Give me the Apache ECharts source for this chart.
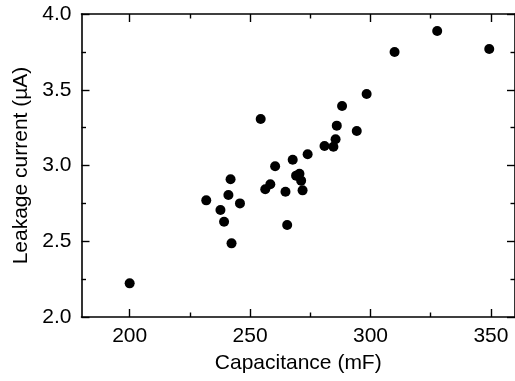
<!DOCTYPE html>
<html>
<head>
<meta charset="utf-8">
<script src="https://cdn.jsdelivr.net/npm/echarts@6/dist/echarts.min.js"></script>
<style>html,body{margin:0;padding:0;background:#fff}#c{width:515px;height:381px}</style>
</head>
<body>
<div id="c"></div>
<script>
const capacitance = [200, 231.8, 237.7, 239.2, 241.0, 241.9, 242.3, 245.8, 254.4, 256.3, 258.4, 260.4, 264.7, 265.4, 267.7, 269.1, 270.5, 271.2, 271.8, 273.9, 280.9, 284.6, 285.5, 286.0, 288.2, 294.3, 298.4, 310.0, 327.7, 349.3];
const leakage = [2.222, 2.770, 2.706, 2.629, 2.805, 2.909, 2.486, 2.750, 3.307, 2.843, 2.876, 2.995, 2.827, 2.607, 3.038, 2.933, 2.946, 2.900, 2.836, 3.074, 3.129, 3.124, 3.173, 3.263, 3.393, 3.228, 3.472, 3.749, 3.888, 3.769];
const xTicks = [200, 250, 300, 350];
const xMinorTicks = [225, 275, 325];
const yTicks = [2.0, 2.5, 3.0, 3.5, 4.0];
const yMinorTicks = [2.25, 2.75, 3.25, 3.75];
const xName = 'Capacitance (mF)';
const yName = 'Leakage current (µA)';

const font = 'Liberation Sans, Arial, sans-serif';
const FS = 21;
const lineOn = {show: true, lineStyle: {color: '#000', width: 1.6}};
const lineOff = {show: false};
const majorTick = {show: true, inside: true, length: 8, customValues: null, lineStyle: {color: '#000', width: 1.4}};
const minorTickLen = 4.5;

function xAxisDef(pos, minor, withLabel) {
  const a = {type: 'value', position: pos, min: 180, max: 360,
    axisLine: minor ? lineOff : lineOn, splitLine: {show: false},
    axisTick: {show: true, inside: true, length: minor ? minorTickLen : 8,
      customValues: minor ? xMinorTicks : xTicks, lineStyle: {color: '#000', width: 1.4}},
    axisLabel: {show: false}};
  if (withLabel) {
    a.axisLabel = {show: true, color: '#000', fontSize: FS, fontFamily: font, margin: 9,
      customValues: xTicks, formatter: v => String(v)};
    a.name = xName; a.nameLocation = 'middle'; a.nameGap = 36;
    a.nameTextStyle = {color: '#000', fontSize: FS, fontFamily: font};
  }
  return a;
}
function yAxisDef(pos, minor, withLabel) {
  const a = {type: 'value', position: pos, min: 2.0, max: 4.0,
    axisLine: minor ? lineOff : lineOn, splitLine: {show: false},
    axisTick: {show: true, inside: true, length: minor ? minorTickLen : 8,
      customValues: minor ? yMinorTicks : yTicks, lineStyle: {color: '#000', width: 1.4}},
    axisLabel: {show: false}};
  if (withLabel) {
    a.axisLabel = {show: true, color: '#000', fontSize: FS, fontFamily: font, margin: 10,
      customValues: yTicks, formatter: v => v.toFixed(1)};
    a.name = yName; a.nameLocation = 'middle'; a.nameGap = 48;
    a.nameTextStyle = {color: '#000', fontSize: FS, fontFamily: font};
  }
  return a;
}

const chart = echarts.init(document.getElementById('c'));
chart.setOption({
  animation: false,
  grid: {left: 81.5, top: 14, width: 436, height: 303, containLabel: false},
  xAxis: [
    xAxisDef('bottom', false, true),
    xAxisDef('top', false, false),
    xAxisDef('bottom', true, false),
    xAxisDef('top', true, false)
  ],
  yAxis: [
    yAxisDef('left', false, true),
    yAxisDef('right', false, false),
    yAxisDef('left', true, false),
    yAxisDef('right', true, false)
  ],
  series: [{
    type: 'scatter', xAxisIndex: 0, yAxisIndex: 0,
    symbol: 'circle', symbolSize: 10,
    itemStyle: {color: '#000', opacity: 1},
    data: capacitance.map((x, i) => [x, leakage[i]])
  }]
});
</script>
</body>
</html>
